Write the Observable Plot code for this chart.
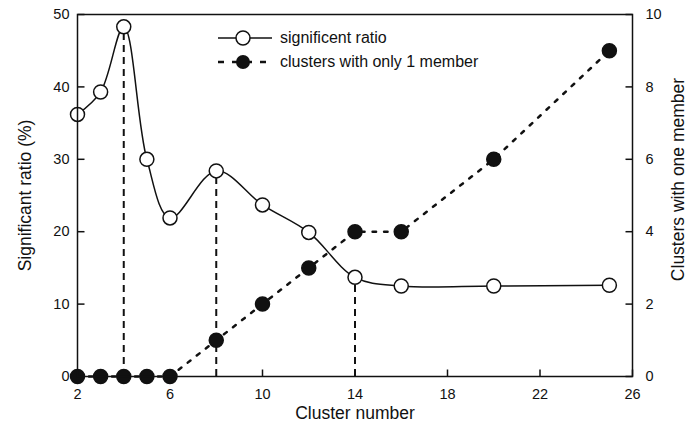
<!DOCTYPE html>
<html><head><meta charset="utf-8">
<script src="https://cdn.jsdelivr.net/npm/d3@7"></script>
<script src="https://cdn.jsdelivr.net/npm/@observablehq/plot@0.6"></script>
<style>
body{margin:0;background:#fff;font-family:"Liberation Sans",Arial,Helvetica,sans-serif}
#wrap{position:relative;width:687px;height:430px}
#legend{position:absolute;left:216px;top:26px;font-size:16px;color:#111;line-height:24px}
#legend .row{display:flex;align-items:center;height:24px}
#legend svg{margin-right:6px}
</style></head><body><div id="wrap"><div id="legend"></div></div>
<script>
const clusterNumber = [2,3,4,5,6,8,10,12,14,16,20,25];
const significantRatio = [36.2,39.3,48.3,30.0,21.9,28.4,23.7,19.9,13.7,12.5,12.5,12.6];
const singleMemberClusters = [0,0,0,0,0,1,2,3,4,4,6,9];
const markedClusters = [4,8,14];
const xTicks = [2,6,10,14,18,22,26];
const leftTicks = [0,10,20,30,40,50];
const rightTicks = [0,2,4,6,8,10];
const seriesNames = ["significent ratio","clusters with only 1 member"];
const titles = {x: "Cluster number", yLeft: "Significant ratio (%)", yRight: "Clusters with one member"};
const k = 5; // right axis (0-10) drawn on left scale (0-50)

const W = 687, H = 430, mL = 77, mR = 55, mT = 14, mB = 54;
const xDom = [2,26], yDom = [0,50];
const plotW = W - mL - mR, plotH = H - mT - mB, tickLen = 7;
const tx = tickLen / plotW * (xDom[1]-xDom[0]);   // tick length in x units
const ty = tickLen / plotH * (yDom[1]-yDom[0]);   // tick length in y units

const ratioData = clusterNumber.map((x,i)=>({x, y: significantRatio[i]}));
const singleData = clusterNumber.map((x,i)=>({x, y: singleMemberClusters[i]*k}));
const markData = markedClusters.map(x=>({x, y: significantRatio[clusterNumber.indexOf(x)]}));
const rightScaled = rightTicks.map(d=>d*k);
const tickStyle = {stroke: "#111", strokeWidth: 1.5};

const chart = Plot.plot({
  width: W, height: H,
  marginLeft: mL, marginRight: mR, marginTop: mT, marginBottom: mB,
  style: {fontFamily: '"Liberation Sans",Arial,Helvetica,sans-serif', fontSize: "14.5px", color: "#111", background: "#fff"},
  x: {domain: xDom},
  y: {domain: yDom},
  marks: [
    Plot.ruleX(markData, {x: "x", y1: 0, y2: "y", stroke: "#111", strokeWidth: 2, strokeDasharray: "7,5"}),
    Plot.line(singleData, {x: "x", y: "y", stroke: "#111", strokeWidth: 2.5, strokeDasharray: "3.5,8"}),
    Plot.line(ratioData, {x: "x", y: "y", stroke: "#111", strokeWidth: 1.5, curve: "catmull-rom"}),
    // inward tick marks
    Plot.link(xTicks, {x1: d => d, x2: d => d, y1: yDom[0], y2: yDom[0] + ty, ...tickStyle}),
    Plot.link(leftTicks, {x1: xDom[0], x2: xDom[0] + tx, y1: d => d, y2: d => d, ...tickStyle}),
    Plot.link(rightScaled, {x1: xDom[1] - tx, x2: xDom[1], y1: d => d, y2: d => d, ...tickStyle}),
    Plot.dot(ratioData, {x: "x", y: "y", r: 7, fill: "#fff", stroke: "#111", strokeWidth: 1.5}),
    Plot.dot(singleData, {x: "x", y: "y", r: 7, fill: "#111", stroke: "#111"}),
    Plot.frame({stroke: "#111", strokeWidth: 1.5}),
    // tick labels
    Plot.axisX({ticks: xTicks, tickSize: 0, tickPadding: 12, label: null}),
    Plot.axisY({anchor: "left", ticks: leftTicks, tickSize: 0, tickPadding: 8, label: null}),
    Plot.axisY({anchor: "right", ticks: rightScaled, tickFormat: d => d/k, tickSize: 0, tickPadding: 13, label: null}),
    // axis titles
    Plot.text([titles.x], {frameAnchor: "bottom", lineAnchor: "middle", textAnchor: "middle", dy: 37, fontSize: 17.5, fill: "#111"}),
    Plot.text([titles.yLeft], {frameAnchor: "left", lineAnchor: "middle", textAnchor: "middle", dx: -52, rotate: -90, fontSize: 17.5, fill: "#111"}),
    Plot.text([titles.yRight], {frameAnchor: "right", lineAnchor: "middle", textAnchor: "middle", dx: 46, dy: -16, rotate: -90, fontSize: 17.5, fill: "#111"})
  ]
});
document.getElementById("wrap").prepend(chart);

const legend = document.getElementById("legend");
legend.innerHTML = `
<div class="row"><svg width="58" height="20"><line x1="2" y1="10" x2="56" y2="10" stroke="#111" stroke-width="1.5"/><circle cx="27" cy="10" r="7" fill="#fff" stroke="#111" stroke-width="1.5"/></svg><span>${seriesNames[0]}</span></div>
<div class="row"><svg width="58" height="20"><line x1="2" y1="10" x2="56" y2="10" stroke="#111" stroke-width="2.5" stroke-dasharray="6,8"/><circle cx="27" cy="10" r="7" fill="#111"/></svg><span>${seriesNames[1]}</span></div>`;
</script></body></html>
